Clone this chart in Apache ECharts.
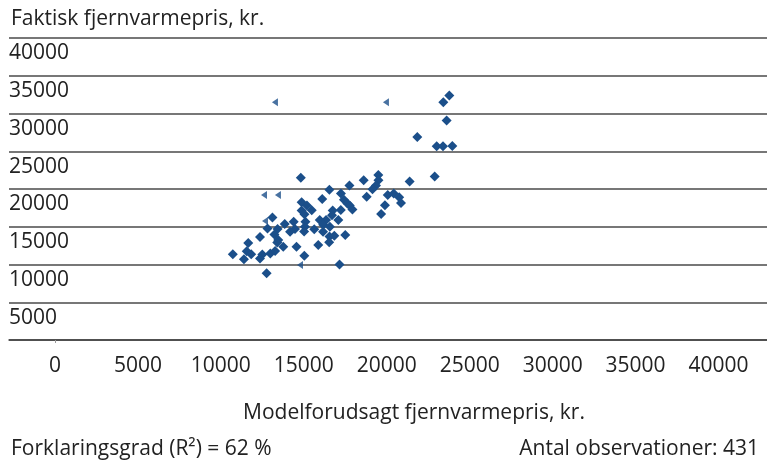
<!DOCTYPE html>
<html>
<head>
<meta charset="utf-8">
<script src="https://cdn.jsdelivr.net/npm/echarts@6/dist/echarts.min.js"></script>
<style>
  html, body { margin: 0; padding: 0; background: #fff; }
  #chart { width: 767px; height: 464px; }
</style>
</head>
<body>
<div id="chart"></div>
<script>
// modelforudsagt pris (x) og faktisk pris (y)
var predicted = [
  23770, 23410, 23610, 21840, 23010, 23390, 23950, 22890, 21380, 14820,
  19490, 19500, 18610, 17750, 19350, 19140, 16540, 17240, 18790, 20060,
  20420, 20750, 20860, 19890, 19660, 16110, 17420, 17630, 17770, 17930,
  17230, 14870, 15190, 15480, 14870, 15040, 16740, 16700, 17080, 15960,
  16340, 16170, 16570, 13110, 14390, 13850, 15100, 15070, 13420, 12810,
  14470, 15630, 14170, 15020, 16160, 13230, 13460, 16550, 16840, 17500,
  12360, 16530, 13400, 13760, 14560, 15870, 11650, 11560, 11830, 12980,
  13270, 12500, 10720, 11390, 12360, 15030, 17150, 12760
]
var actual = [
  32380, 31500, 29070, 26900, 25670, 25670, 25710, 21660, 21000, 21500,
  21860, 21170, 21150, 20470, 20470, 19980, 19890, 19390, 18960, 19210,
  19390, 18920, 18130, 17840, 16700, 18690, 18570, 18090, 17830, 17300,
  17230, 18260, 17800, 17200, 17160, 16670, 17140, 16520, 15880, 15880,
  15880, 15280, 14990, 16210, 15660, 15350, 15660, 14990, 14690, 14780,
  14690, 14660, 14330, 14360, 14330, 13960, 13230, 13720, 13800, 13900,
  13630, 12940, 12900, 12350, 12350, 12570, 12860, 11740, 11350, 11470,
  11780, 11310, 11350, 10680, 10810, 11160, 9990, 8830
]
// halve markører (ufuldstændigt tegnede punkter i originalen)
var partialX = [13260, 19950, 12600, 13440, 12660, 14770]
var partialY = [31500, 31500, 19190, 19190, 15750, 9930]

var xTicks = [0, 5000, 10000, 15000, 20000, 25000, 30000, 35000, 40000]

var points = predicted.map(function (v, i) { return [v, actual[i]] })
var partial = partialX.map(function (v, i) { return [v, partialY[i]] })

var font = '"Open Sans", "Noto Sans", sans-serif'
var txt = '#222'
var fs = 21
var myChart = echarts.init(document.getElementById('chart'))
var option = {
  animation: false,
  textStyle: { fontFamily: font },
  title: [
    { text: 'Faktisk fjernvarmepris, kr.', left: 6, top: 4,
      textStyle: { fontSize: fs, fontWeight: 'normal', color: txt, fontFamily: font } },
    { text: 'Modelforudsagt fjernvarmepris, kr.', left: 409, top: 398, textAlign: 'center',
      textStyle: { fontSize: fs, fontWeight: 'normal', color: txt, fontFamily: font } },
    { text: 'Forklaringsgrad (R²) = 62 %', left: 6, top: 434,
      textStyle: { fontSize: fs, fontWeight: 'normal', color: txt, fontFamily: font } },
    { text: 'Antal observationer: 431', right: 3, top: 434,
      textStyle: { fontSize: fs, fontWeight: 'normal', color: txt, fontFamily: font } }
  ],
  grid: { left: 9, right: 0, top: 38, bottom: 124 },
  xAxis: {
    type: 'value',
    min: -2770,
    max: 42920,
    splitLine: { show: false },
    axisLine: { show: true, onZero: false, lineStyle: { color: '#444', width: 1.5 } },
    axisTick: { show: true, customValues: [0], length: 3, lineStyle: { color: '#999' } },
    axisLabel: {
      customValues: xTicks,
      margin: 16,
      fontSize: fs,
      lineHeight: 21,
      color: txt,
      fontFamily: font,
      formatter: function (v) { return String(v) }
    }
  },
  yAxis: {
    type: 'value',
    min: 0,
    max: 40000,
    interval: 5000,
    axisLine: { show: false },
    axisTick: { show: false },
    splitLine: { show: true, lineStyle: { color: '#4a4a4a', width: 1.5 } },
    axisLabel: {
      inside: true,
      margin: 0,
      align: 'left',
      verticalAlign: 'top',
      padding: [5, 0, 0, 0],
      fontSize: fs,
      lineHeight: 21,
      color: txt,
      fontFamily: font,
      formatter: function (v) { return v === 0 ? '' : String(v) }
    }
  },
  series: [
    {
      type: 'scatter',
      symbol: 'diamond',
      symbolSize: 10,
      itemStyle: { color: '#1b4f8a', opacity: 1 },
      data: points
    },
    {
      type: 'scatter',
      symbol: 'triangle',
      symbolRotate: 90,
      symbolSize: [8, 6],
      itemStyle: { color: '#1b4f8a' },
      data: partial
    }
  ]
}
myChart.setOption(option)
</script>
</body>
</html>
